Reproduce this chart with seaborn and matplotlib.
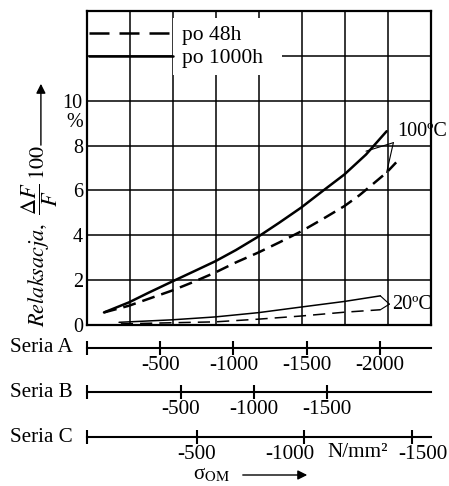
import numpy as np
import pandas as pd
import seaborn as sns
import matplotlib.pyplot as plt
from matplotlib.lines import Line2D
from matplotlib.patches import Rectangle
from matplotlib.transforms import ScaledTranslation, blended_transform_factory

sns.set_theme(style="whitegrid")
plt.rcParams["font.family"] = ["Liberation Serif", "DejaVu Serif"]
plt.rcParams["mathtext.fontset"] = "stix"
plt.rcParams["axes.unicode_minus"] = False
for k in ["text.color", "xtick.color", "ytick.color", "axes.labelcolor", "axes.edgecolor"]:
    plt.rcParams[k] = "black"

# stress on the "Seria A" scale (N/mm2) vs relaxation in %
x_100_1000h = [-116, -287, -424, -579, -720, -876, -1017, -1170, -1313, -1462,
               -1609, -1758, -1906, -2047]
y_100_1000h = [0.56, 1.01, 1.45, 1.93, 2.36, 2.84, 3.34, 3.94, 4.56, 5.23,
               5.97, 6.71, 7.60, 8.64]
x_100_48h = [-116, -287, -579, -720, -876, -1017, -1170, -1313, -1462, -1609,
             -1758, -1860, -1947, -2047, -2112]
y_100_48h = [0.56, 0.86, 1.53, 1.90, 2.34, 2.79, 3.23, 3.68, 4.17, 4.72,
             5.30, 5.78, 6.25, 6.80, 7.25]
x_20_1000h = [-219, -287, -579, -876, -1170, -1462, -1758, -2004]
y_20_1000h = [0.12, 0.14, 0.23, 0.36, 0.55, 0.80, 1.05, 1.30]
x_20_48h = [-231, -579, -876, -1170, -1462, -1758, -2004]
y_20_48h = [0.05, 0.10, 0.14, 0.26, 0.40, 0.57, 0.68]

czas_order = ["po 48h", "po 1000h"]
y_ticks = [0, 2, 4, 6, 8, 10, 12, 14]
y_labels = ["0", "2", "4", "6", "8", "10", "", ""]

seria_ticks = {
    "Seria A": [-500, -1000, -1500, -2000],
    "Seria B": [-500, -1000, -1500],
    "Seria C": [-500, -1000, -1500],
}

frames = []
for temp, czas, xs, ys in [(100, "po 1000h", x_100_1000h, y_100_1000h),
                           (100, "po 48h", x_100_48h, y_100_48h),
                           (20, "po 1000h", x_20_1000h, y_20_1000h),
                           (20, "po 48h", x_20_48h, y_20_48h)]:
    frames.append(pd.DataFrame({"sigma": xs, "relax": ys, "temp": temp, "czas": czas}))
df = pd.concat(frames, ignore_index=True)

fig = plt.figure(figsize=(4.49, 4.86), dpi=100)
ax = fig.add_axes([87 / 449, 1 - 325 / 486, 344 / 449, 314 / 486])

sns.lineplot(data=df[df.temp == 100], x="sigma", y="relax", style="czas",
             style_order=czas_order, dashes={"po 48h": (5.2, 2.8), "po 1000h": ""},
             color="black", linewidth=1.8, sort=False, estimator=None,
             legend=False, ax=ax)
sns.lineplot(data=df[df.temp == 20], x="sigma", y="relax", style="czas",
             style_order=czas_order, dashes={"po 48h": (8, 4.6), "po 1000h": ""},
             color="black", linewidth=1.1, sort=False, estimator=None,
             legend=False, ax=ax)

ax.set_xlim(0, -2350)
ax.set_ylim(0, 14)
ax.set_xticks(np.linspace(0, -2350, 9))
ax.set_xticklabels([])
ax.set_yticks(y_ticks)
ax.set_yticklabels(y_labels)
ax.tick_params(axis="both", length=0, labelsize=14.5, pad=3)
ax.grid(True, color="black", linewidth=1.1)
for s in ax.spines.values():
    s.set_color("black")
    s.set_linewidth(1.6)
ax.set_xlabel("")
ax.set_ylabel(r"$Relaksacja,\ \dfrac{\Delta F}{F}\,100$", fontsize=16)
ax.yaxis.set_label_coords(-0.078, 0.283)

# percent sign under "10"
tr = blended_transform_factory(ax.transAxes, ax.transData)
ax.text(-0.012, 9.05, "%", transform=tr, ha="right", va="center", fontsize=14.5)

# arrow beside the y label
ax.annotate("", xy=(-0.134, 0.777), xytext=(-0.134, 0.564), xycoords="axes fraction",
            arrowprops=dict(arrowstyle="-|>", color="black", lw=1.0, mutation_scale=14),
            annotation_clip=False)

# legend with white background behind the text
ax.add_patch(Rectangle((0.25, 0.796), 0.317, 0.182, transform=ax.transAxes,
                       facecolor="white", edgecolor="none", zorder=1))
handles = [Line2D([], [], color="black", lw=1.8, dashes=(8, 4)),
           Line2D([], [], color="black", lw=1.8)]
ax.legend(handles, czas_order, loc="upper left", bbox_to_anchor=(0.005, 0.955),
          frameon=False, handlelength=3.9, handletextpad=0.45, labelspacing=0.15,
          borderpad=0, borderaxespad=0, fontsize=15.5)

# temperature labels with pointer lines
ax.text(-2120, 8.62, "100ºC", ha="left", va="center", fontsize=14.5, clip_on=False)
for xi, yi in [(x_100_1000h[-2], y_100_1000h[-2] + 0.15), (x_100_48h[-2], y_100_48h[-2])]:
    ax.annotate("", xy=(xi, yi), xytext=(-2093, 8.13),
                arrowprops=dict(arrowstyle="-", color="black", lw=0.8,
                                shrinkA=0, shrinkB=0), annotation_clip=False)
ax.text(-2086, 0.93, "20ºC", ha="left", va="center", fontsize=14.5, clip_on=False)
for xi, yi in [(x_20_1000h[-1], y_20_1000h[-1]), (x_20_48h[-1], y_20_48h[-1])]:
    ax.annotate("", xy=(xi, yi), xytext=(-2066, 0.93),
                arrowprops=dict(arrowstyle="-", color="black", lw=0.8,
                                shrinkA=0, shrinkB=0), annotation_clip=False)


def seria_axis(name, lims, offset_px, y_px):
    t = ax.twiny()
    t.set_xlim(*lims)
    t.grid(False)
    for s in ["top", "left", "right"]:
        t.spines[s].set_visible(False)
    sp = t.spines["bottom"]
    sp.set_visible(True)
    sp.set_position(("outward", offset_px * 0.72))
    sp.set_color("black")
    sp.set_linewidth(1.5)
    t.xaxis.set_ticks_position("bottom")
    ticks = [lims[0]] + seria_ticks[name]
    t.set_xticks(ticks)
    t.set_xticklabels([""] + [str(v) for v in seria_ticks[name]])
    t.tick_params(axis="x", bottom=True, top=False, labelbottom=True, labeltop=False,
                  direction="inout", length=9.4, width=1.5, color="black",
                  labelsize=15.2, pad=1)
    fig.text(73 / 449, 1 - y_px / 486, name, ha="right", va="center", fontsize=15.2)
    return t


seria_axis("Seria A", (0, -2350), 23, 348)
seria_axis("Seria B", (144, -2212), 67, 392)
tc = seria_axis("Seria C", (10, -1588), 112, 437)
for lab, dx in zip(tc.get_xticklabels(), [0, 0, -15, 11]):
    lab.set_transform(lab.get_transform() + ScaledTranslation(dx / 100, 0, fig.dpi_scale_trans))
fig.text(358 / 449, 1 - 452 / 486, "N/mm²", ha="center", va="center", fontsize=15.2)

# sigma label with arrow
fig.text(212 / 449, 1 - 475 / 486, r"σ$_{\mathrm{OM}}$", ha="center", va="center", fontsize=15.2)
ax.annotate("", xy=(310 / 449, 11 / 486), xytext=(240 / 449, 11 / 486),
            xycoords="figure fraction",
            arrowprops=dict(arrowstyle="-|>", color="black", lw=1.0, mutation_scale=14))

fig.savefig("out.png", dpi=100)
